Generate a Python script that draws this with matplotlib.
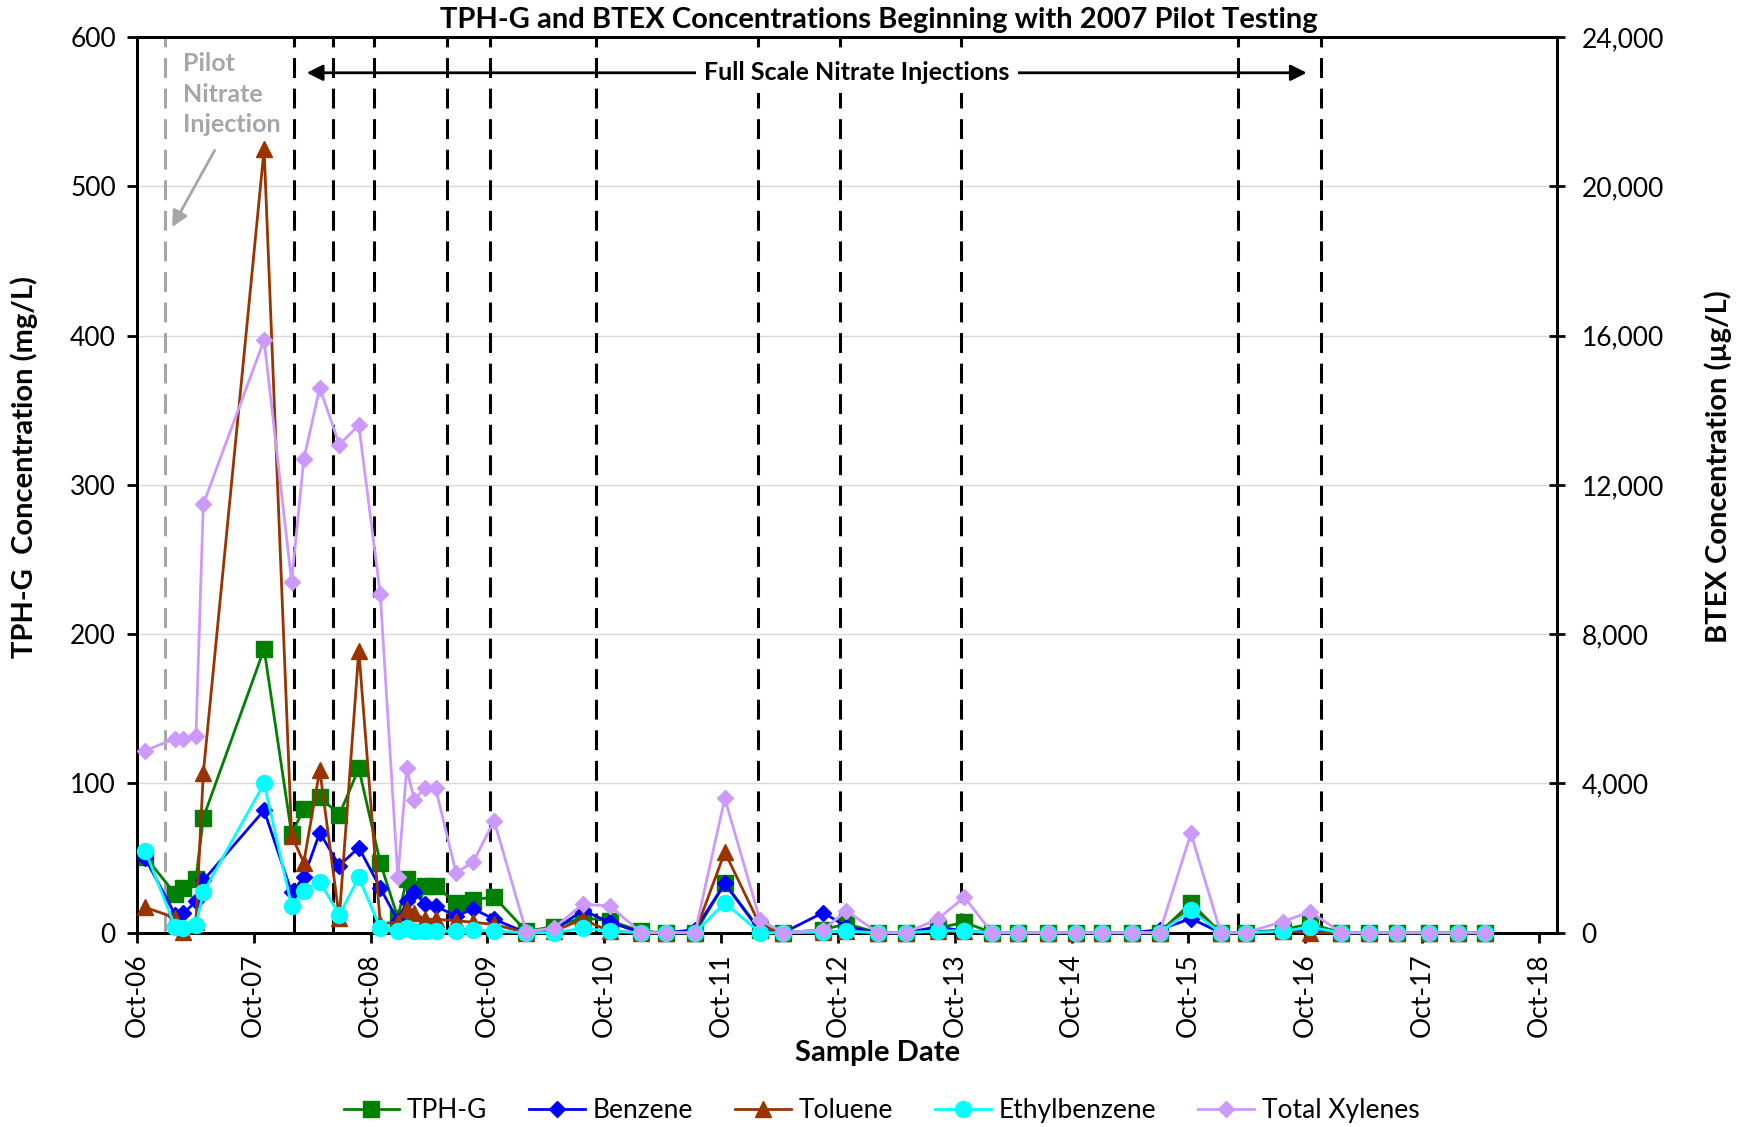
import numpy as np
import pandas as pd
import matplotlib
matplotlib.use('Agg')
import matplotlib.pyplot as plt
import matplotlib.dates as mdates
from matplotlib.ticker import FuncFormatter, MultipleLocator

plt.rcParams['font.family'] = ['Lato', 'DejaVu Sans']

# sampling events
sample_dates = ['2006-10-27', '2007-01-29', '2007-02-24', '2007-04-04', '2007-04-27',
                '2007-11-03', '2008-01-28', '2008-03-06', '2008-04-25', '2008-06-25',
                '2008-08-25', '2008-10-31', '2008-12-25', '2009-01-22', '2009-02-14',
                '2009-03-20', '2009-04-22', '2009-06-25', '2009-08-18', '2009-10-22',
                '2010-01-30', '2010-04-26', '2010-07-26', '2010-10-18', '2011-01-25',
                '2011-04-12', '2011-07-12', '2011-10-13', '2012-01-31', '2012-04-13',
                '2012-08-16', '2012-10-27', '2013-02-02', '2013-05-01', '2013-08-08',
                '2013-10-31', '2014-01-25', '2014-04-18', '2014-07-19', '2014-10-14',
                '2015-01-03', '2015-04-09', '2015-07-03', '2015-10-09', '2016-01-10',
                '2016-03-29', '2016-07-23', '2016-10-16', '2017-01-21', '2017-04-17',
                '2017-07-15', '2017-10-22', '2018-01-21', '2018-04-14']

# TPH-G in mg/L
tph_g = [51, 26, 30, 36, 77, 190, 66, 83, 91, 79, 110, 47, 10, 36, 29, 31, 31, 20, 22, 24,
         1, 4, 10, 8, 1, 0, 0, 33, 2, 0, 2, 6, 0, 0, 3, 7, 0, 0, 0, 0,
         0, 0, 0, 20, 0, 0, 2, 6, 0, 0, 0, 0, 0, 0]

# BTEX in ug/L
benzene = [2000, 480, 520, 840, 1400, 3280, 1080, 1480, 2680, 1800, 2280, 1200, 320, 840, 1100,
           760, 720, 440, 640, 360, 0, 60, 600, 280, 0, 0, 80, 1320, 40, 0, 540, 160, 0, 0,
           160, 40, 0, 0, 0, 0, 0, 0, 80, 380, 0, 0, 40, 80, 0, 0, 0, 0, 0, 0]
toluene = [680, 400, 20, 280, 4280, 21000, 2600, 1880, 4360, 400, 7560, 240, 280, 640, 520,
           360, 360, 320, 280, 220, 0, 40, 360, 40, 0, 0, 0, 2160, 200, 0, 20, 40, 0, 0,
           40, 40, 0, 0, 0, 0, 0, 0, 0, 680, 0, 0, 40, 0, 0, 0, 0, 0, 0, 0]
ethylbenzene = [2200, 160, 120, 200, 1080, 4000, 720, 1120, 1360, 480, 1480, 120, 40, 120, 40,
                40, 40, 40, 80, 40, 0, 0, 120, 40, 0, 0, 0, 800, 0, 0, 20, 40, 0, 0,
                50, 50, 0, 0, 0, 0, 0, 0, 0, 600, 0, 0, 40, 145, 0, 0, 0, 0, 0, 0]
total_xylenes = [4880, 5200, 5200, 5280, 11480, 15880, 9400, 12680, 14600, 13080, 13600, 9080,
                 1480, 4400, 3560, 3880, 3880, 1600, 1900, 3000, 30, 120, 760, 720, 0, 0, 0,
                 3600, 340, 0, 80, 590, 0, 0, 360, 950, 0, 0, 0, 0, 0, 0, 0, 2660, 0, 0,
                 300, 560, 0, 0, 0, 0, 0, 0]

pilot_injection = ['2006-12-27']
fullscale_injections = ['2008-02-05', '2008-06-05', '2008-10-11', '2009-05-28', '2009-10-09',
                        '2010-09-04', '2012-01-24', '2012-10-08', '2013-10-21', '2016-03-03',
                        '2016-11-19']

dates = pd.to_datetime(sample_dates)

fig = plt.figure(figsize=(17.49, 11.27), dpi=100)
ax = fig.add_axes([0.0782, 0.1724, 0.8118, 0.7948])
ax2 = ax.twinx()

# injection events
for d in pilot_injection:
    ax.axvline(pd.Timestamp(d), color='#a6a6a6', lw=2.2, dashes=(6.5, 3.5), zorder=1)
for d in fullscale_injections:
    ax.axvline(pd.Timestamp(d), color='black', lw=2.2, dashes=(6.5, 3.5), zorder=1)

ax.plot(dates, tph_g, color='#008000', lw=2, marker='s', ms=11, clip_on=False,
        zorder=3, label='TPH-G')
ax2.plot(dates, benzene, color='#0000ff', lw=2, marker='D', ms=8.5, clip_on=False,
         zorder=3, label='Benzene')
ax2.plot(dates, toluene, color='#993300', lw=2, marker='^', ms=11, clip_on=False,
         zorder=3, label='Toluene')
ax2.plot(dates, ethylbenzene, color='#00ffff', lw=2, marker='o', ms=11.5, clip_on=False,
         zorder=3, label='Ethylbenzene')
ax2.plot(dates, total_xylenes, color='#cc99ff', lw=2, marker='D', ms=8.5, clip_on=False,
         zorder=3, label='Total Xylenes')

ax.set_xlim(pd.Timestamp('2006-10-01'), pd.Timestamp('2018-11-25'))
ax.set_ylim(0, 600)
ax2.set_ylim(0, 24000)
ax.yaxis.set_major_locator(MultipleLocator(100))
ax2.yaxis.set_major_locator(MultipleLocator(4000))
ax2.yaxis.set_major_formatter(FuncFormatter(lambda v, p: f'{int(v):,}'))
ax.xaxis.set_major_locator(mdates.MonthLocator(bymonth=10))
ax.xaxis.set_major_formatter(mdates.DateFormatter('%b-%y'))
ax.grid(axis='y', color='#d9d9d9', lw=1)
ax.set_axisbelow(True)

for a in (ax, ax2):
    for s in a.spines.values():
        s.set_linewidth(2)
ax.tick_params(axis='y', direction='out', length=7, width=2, labelsize=19, pad=8)
ax.tick_params(axis='x', direction='out', length=7, width=2, labelsize=19, pad=8,
               labelrotation=90)
ax2.tick_params(axis='y', direction='inout', length=12, width=2, labelsize=19, pad=12)

ax.set_ylabel('TPH-G  Concentration (mg/L)', fontsize=21, fontweight='bold')
ax.yaxis.set_label_coords(-0.0695, 0.52)
ax2.set_ylabel('BTEX Concentration (\u00b5g/L)', fontsize=21, fontweight='bold')
ax2.yaxis.set_label_coords(1.1044, 0.52)
ax.set_xlabel('Sample Date', fontsize=21, fontweight='bold')
ax.xaxis.set_label_coords(0.522, -0.12)
fig.text(0.5026, 0.982, 'TPH-G and BTEX Concentrations Beginning with 2007 Pilot Testing',
         fontsize=21, fontweight='bold', ha='center', va='center')

# annotations
ax.text(0.0328, 0.983, 'Pilot\nNitrate\nInjection', transform=ax.transAxes, color='#a6a6a6',
        fontsize=18, fontweight='bold', va='top', ha='left', linespacing=1.4, zorder=5)
ax.annotate('', xy=(0.0239, 0.785), xytext=(0.0558, 0.876), xycoords='axes fraction',
            arrowprops=dict(arrowstyle='-|>', color='#a6a6a6', lw=2, mutation_scale=24))
ax.annotate('', xy=(0.1197, 0.960), xytext=(0.824, 0.960), xycoords='axes fraction',
            arrowprops=dict(arrowstyle='<|-|>', color='black', lw=2, mutation_scale=24,
                            shrinkA=0, shrinkB=0))
ax.text(0.507, 0.960, 'Full Scale Nitrate Injections', transform=ax.transAxes, fontsize=18,
        fontweight='bold', ha='center', va='center', zorder=6,
        bbox=dict(facecolor='white', edgecolor='none', pad=6))

h1, l1 = ax.get_legend_handles_labels()
h2, l2 = ax2.get_legend_handles_labels()
fig.legend(h1 + h2, l1 + l2, loc='center', bbox_to_anchor=(0.504, 0.0142), ncol=5,
           frameon=False, fontsize=19, handlelength=2.1, columnspacing=1.6, handletextpad=0.3)

fig.savefig('out.png', dpi=100)
